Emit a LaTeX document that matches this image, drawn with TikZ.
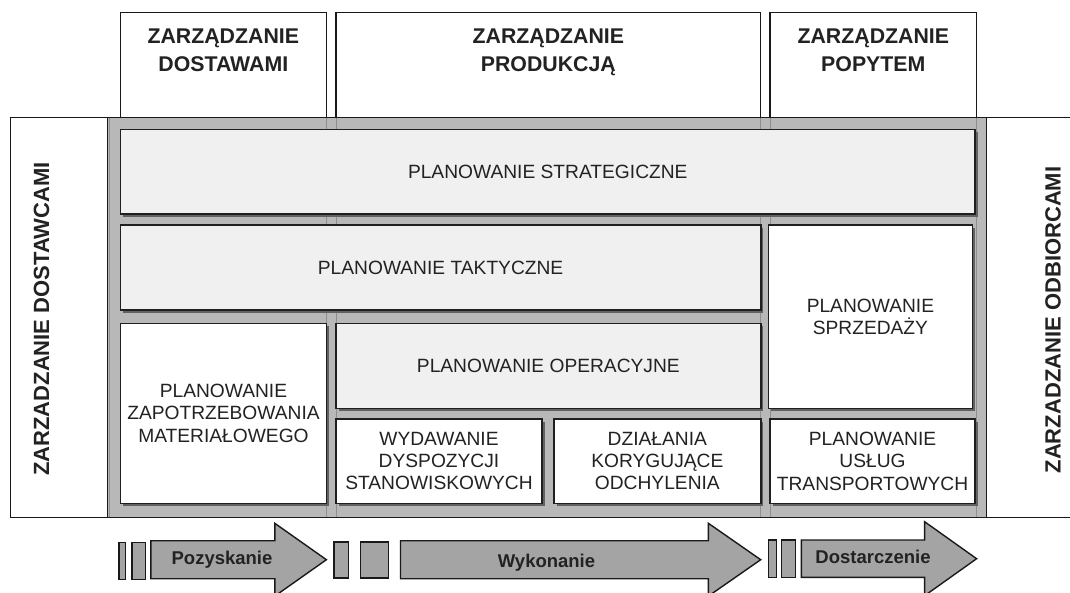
\documentclass[tikz,border=0pt]{standalone}
\usepackage{fontspec}
\setmainfont{Liberation Sans}
\usetikzlibrary{shadows}
\definecolor{framegray}{HTML}{B8B8B8}
\definecolor{boxgray}{HTML}{F0F0F0}
\definecolor{arrowgray}{HTML}{A4A4A4}
\definecolor{txt}{HTML}{222222}
\definecolor{colline}{HTML}{8E8E8E}
\newcommand\pnode[7]{%
  \node[pbox, fill=#6, minimum width={#4-#2}, minimum height={#5-#3}] (#1) at ({(#2+#4)/2},{(#3+#5)/2}) {#7};}
\begin{document}
\begin{tikzpicture}[x=1pt,y=-1pt,
  pbox/.style={draw=black!88, line width=1.6pt, inner sep=0pt, align=center, text=txt,
    font=\fontsize{19.2}{22.3}\selectfont,
    general shadow={fill=black!62, shadow xshift=2.5pt, shadow yshift=-2.5pt}},
  headbox/.style={draw=black!90, line width=1.3pt, fill=white, inner sep=0pt},
  headtxt/.style={anchor=north, align=center, inner sep=0pt, text=txt, font=\fontsize{21.3}{28.3}\selectfont\bfseries},
  sidetxt/.style={rotate=90, inner sep=0pt, text=txt, font=\fontsize{22}{24}\selectfont\bfseries},
  arrowshape/.style={draw=black!90, line width=1.4pt, fill=arrowgray},
  arrowtxt/.style={anchor=base, inner sep=0pt, text=txt, font=\fontsize{18.5}{22}\selectfont\bfseries},
  colsep/.style={draw=colline, line width=1pt}
]
\useasboundingbox (0,0) rectangle (1070,592);
% header boxes
\node[headbox, minimum width=206.2, minimum height=105.3] (h1) at (223.3,65.35) {};
\node[headbox, minimum width=424.7, minimum height=105.3] (h2) at (548.35,65.35) {};
\node[headbox, minimum width=206.6, minimum height=105.3] (h3) at (873.3,65.35) {};
\node[headtxt] (h1t) at (223.3,28.4) {ZARZĄDZANIE\\DOSTAWAMI};
\node[headtxt] (h2t) at (548.35,28.4) {ZARZĄDZANIE\\PRODUKCJĄ};
\node[headtxt] (h3t) at (873.3,28.4) {ZARZĄDZANIE\\POPYTEM};
% frame
\fill[white] (10.7,117.5) rectangle (1080,517.3);
\fill[framegray] (107.3,117.5) rectangle (986.7,517.3);
\foreach \xx in {109.5,326.4,336,760.7,770,976.6}
  \draw[colsep] (\xx,117.5) -- (\xx,517.3);
\draw[line width=1.3pt, draw=black!90] (10.7,117.5) rectangle (1080,517.3);
\draw[line width=1.3pt, draw=black!90] (107.3,117.5) -- (107.3,517.3);
\draw[line width=1.3pt, draw=black!90] (986.7,117.5) -- (986.7,517.3);
% planning boxes
\pnode{strat}{120.5}{129.5}{975}{214}{boxgray}{PLANOWANIE STRATEGICZNE}
\pnode{takt}{120.5}{225}{760.7}{310}{boxgray}{PLANOWANIE TAKTYCZNE}
\pnode{sprz}{768.3}{225}{972.5}{408.3}{white}{PLANOWANIE\\SPRZEDAŻY}
\pnode{zapo}{120.5}{323.3}{326.4}{503.3}{white}{PLANOWANIE\\ZAPOTRZEBOWANIA\\MATERIAŁOWEGO}
\pnode{oper}{336}{323.3}{760.7}{408.3}{boxgray}{PLANOWANIE OPERACYJNE}
\pnode{wyda}{336}{419}{542}{503.3}{white}{WYDAWANIE\\DYSPOZYCJI\\STANOWISKOWYCH}
\pnode{dzia}{554}{419}{760.7}{503.3}{white}{DZIAŁANIA\\KORYGUJĄCE\\ODCHYLENIA}
\pnode{tran}{770}{419}{975}{503.3}{white}{PLANOWANIE\\USŁUG\\TRANSPORTOWYCH}
% side labels
\node[sidetxt] (ldost) at (41.5,319) {ZARZADZANIE DOSTAWCAMI};
\node[sidetxt] (lodb) at (1053,320) {ZARZADZANIE ODBIORCAMI};
% process arrows
\draw[arrowshape] (118.8,542.3) rectangle (125.7,579.3);
\draw[arrowshape] (131.9,542.3) rectangle (145.3,579.3);
\draw[arrowshape] (150.8,540.7) -- (274.8,540.7) -- (274.8,523.3) -- (326.4,559.7) -- (274.8,596.1) -- (274.8,578.7) -- (150.8,578.7) -- cycle;
\node[arrowtxt] (apoz) at (222,564) {Pozyskanie};
\draw[arrowshape] (334,542) rectangle (348.5,578);
\draw[arrowshape] (360.5,542) rectangle (388.4,578);
\draw[arrowshape] (400.5,540.7) -- (708.4,540.7) -- (708.4,523.3) -- (760.7,559.7) -- (708.4,596.1) -- (708.4,578.7) -- (400.5,578.7) -- cycle;
\node[arrowtxt] (awyk) at (546.5,567) {Wykonanie};
\draw[arrowshape] (768.6,540) rectangle (776.2,577.3);
\draw[arrowshape] (781.7,540) rectangle (795.5,577.3);
\draw[arrowshape] (801.3,540) -- (924.6,540) -- (924.6,521.7) -- (976.6,558.7) -- (924.6,595.7) -- (924.6,577.3) -- (801.3,577.3) -- cycle;
\node[arrowtxt] (adost) at (873,563.5) {Dostarczenie};
\end{tikzpicture}
\end{document}
